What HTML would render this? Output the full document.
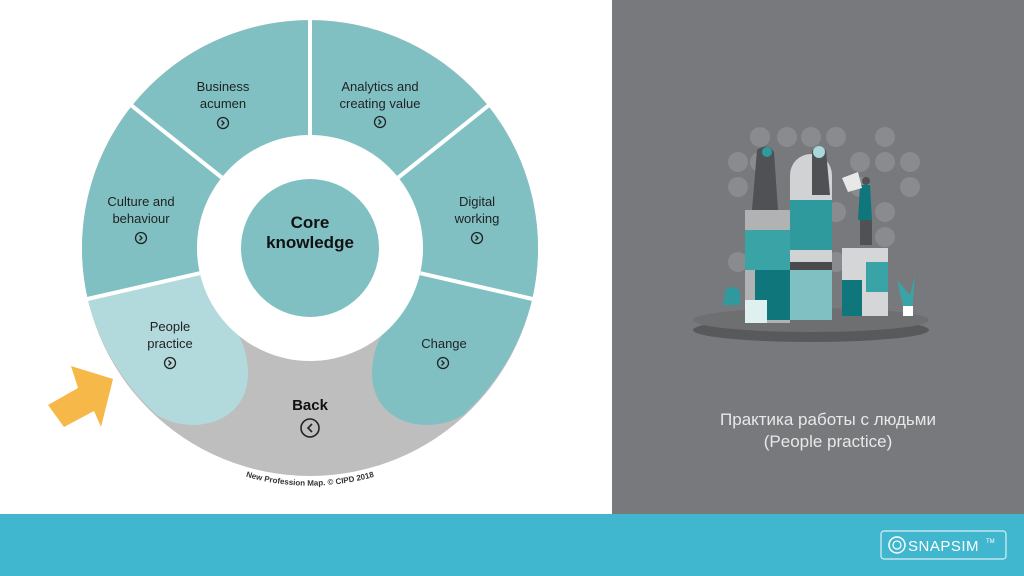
<!DOCTYPE html>
<html><head><meta charset="utf-8"><style>
html,body{margin:0;padding:0;width:1024px;height:576px;overflow:hidden;background:#fff;font-family:"Liberation Sans",sans-serif}
</style></head><body>
<svg width="1024" height="576" viewBox="0 0 1024 576" xmlns="http://www.w3.org/2000/svg" style="position:absolute;left:0;top:0">
<rect x="0" y="0" width="1024" height="576" fill="#fff"/>
<rect x="612" y="0" width="412" height="514" fill="#78797c"/>
<rect x="0" y="514" width="1024" height="62" fill="#40b7ce"/>

<circle cx="310" cy="248" r="228" fill="#bdbebd"/>
<path d="M87.7 298.9 A228 228 0 1 1 532.3 298.9 L420.2 273.2 A113 113 0 1 0 199.8 273.2 Z" fill="#80c0c3"/>
<path d="M87.7 298.9 A228 228 0 0 0 157 415 C190 436 250 425 248 370 C247 355 243 342 237 333 A113 113 0 0 1 199.8 273.2 Z" fill="#b2dadc"/>
<path d="M532.3 298.9 A228 228 0 0 1 463 415 C430 436 370 425 372 370 C373 355 377 342 383 333 A113 113 0 0 0 420.2 273.2 Z" fill="#80c0c3"/>
<circle cx="310" cy="248" r="113" fill="#fff"/>
<circle cx="310" cy="248" r="69" fill="#80c0c3"/>
<g stroke="#fff" stroke-width="4">
<line x1="310" y1="135" x2="310" y2="15"/>
<line x1="221.7" y1="177.5" x2="128" y2="102.7"/>
<line x1="398.3" y1="177.5" x2="492" y2="102.7"/>
<line x1="199.8" y1="273.2" x2="83" y2="300"/>
<line x1="420.2" y1="273.2" x2="537" y2="300"/>
</g>
<g font-size="13" fill="#222" text-anchor="middle">
<text x="223" y="91">Business</text><text x="223" y="108">acumen</text>
<text x="380" y="91">Analytics and</text><text x="380" y="108">creating value</text>
<text x="141" y="206">Culture and</text><text x="141" y="223">behaviour</text>
<text x="477" y="206">Digital</text><text x="477" y="223">working</text>
<text x="170" y="331">People</text><text x="170" y="348">practice</text>
<text x="444" y="348">Change</text>
</g>
<g font-size="17" font-weight="bold" fill="#111" text-anchor="middle">
<text x="310" y="228">Core</text><text x="310" y="248">knowledge</text>
</g>
<text x="310" y="410" font-size="15" font-weight="bold" fill="#111" text-anchor="middle">Back</text>
<g fill="none" stroke="#222" stroke-width="1.3">
<circle cx="223" cy="123" r="5.5"/><path d="M221.5 120.5 L224 123 L221.5 125.5"/>
<circle cx="380" cy="122" r="5.5"/><path d="M378.5 119.5 L381 122 L378.5 124.5"/>
<circle cx="141" cy="238" r="5.5"/><path d="M139.5 235.5 L142 238 L139.5 240.5"/>
<circle cx="477" cy="238" r="5.5"/><path d="M475.5 235.5 L478 238 L475.5 240.5"/>
<circle cx="170" cy="363" r="5.5"/><path d="M168.5 360.5 L171 363 L168.5 365.5"/>
<circle cx="443" cy="363" r="5.5"/><path d="M441.5 360.5 L444 363 L441.5 365.5"/>
<circle cx="310" cy="428" r="9" stroke-width="1.6"/><path d="M312 424 L308 428 L312 432" stroke-width="1.6"/>
</g>
<defs><path id="arc" d="M177 444 A233 233 0 0 0 443 444"/></defs>
<text font-size="8" font-weight="bold" fill="#333"><textPath href="#arc" startOffset="50%" text-anchor="middle">New Profession Map. © CIPD 2018</textPath></text>

<polygon points="71,366 113,379 101,427 94,411 64,427 48,405 78,388" fill="#f7b84a"/>

<g fill="#8a8b8e">
<circle cx="760" cy="137" r="10"/><circle cx="787" cy="137" r="10"/><circle cx="811" cy="137" r="10"/><circle cx="836" cy="137" r="10"/><circle cx="885" cy="137" r="10"/>
<circle cx="738" cy="162" r="10"/><circle cx="760" cy="162" r="10"/><circle cx="860" cy="162" r="10"/><circle cx="885" cy="162" r="10"/><circle cx="910" cy="162" r="10"/>
<circle cx="738" cy="187" r="10"/><circle cx="860" cy="187" r="10"/><circle cx="910" cy="187" r="10"/>
<circle cx="836" cy="212" r="10"/><circle cx="885" cy="212" r="10"/>
<circle cx="885" cy="237" r="10"/><circle cx="738" cy="262" r="10"/><circle cx="836" cy="262" r="10"/>
</g>
<ellipse cx="811" cy="330" rx="118" ry="12" fill="#58595b"/>
<ellipse cx="811" cy="320" rx="118" ry="12" fill="#6e6f71"/>
<rect x="745" y="210" width="45" height="113" fill="#b0b2b4"/>
<rect x="745" y="230" width="45" height="40" fill="#3aa3a6"/>
<rect x="755" y="270" width="35" height="50" fill="#0f777b"/>
<rect x="745" y="300" width="22" height="23" fill="#dff0f0"/>
<path d="M790 320 V175 A21 21 0 0 1 832 175 V320 Z" fill="#d0d2d4"/>
<rect x="790" y="200" width="42" height="50" fill="#2f9a9e"/>
<rect x="790" y="270" width="42" height="50" fill="#80c0c3"/>
<rect x="790" y="262" width="42" height="8" fill="#4a4b4d"/>
<rect x="842" y="248" width="46" height="68" fill="#d5d6d8"/>
<rect x="842" y="280" width="20" height="36" fill="#0f777b"/>
<rect x="866" y="262" width="22" height="30" fill="#3aa3a6"/>
<path d="M757 150 Q768 142 774 152 L778 210 L752 210 Z" fill="#505155"/>
<circle cx="767" cy="152" r="5" fill="#2f9a9e"/>
<path d="M812 150 L826 150 L830 195 L812 195 Z" fill="#505155"/>
<circle cx="819" cy="152" r="6" fill="#a8d8da"/>
<path d="M860 185 L870 185 L872 220 L858 220 Z" fill="#0f777b"/>
<rect x="860" y="220" width="12" height="25" fill="#505155"/>
<circle cx="866" cy="181" r="4" fill="#505155"/>
<path d="M842 178 L858 172 L862 188 L848 192 Z" fill="#e8e8e8"/>
<path d="M905 315 L897 280 L910 295 L915 275 L912 315 Z" fill="#3aa3a6"/>
<rect x="903" y="306" width="10" height="10" fill="#fff"/>
<path d="M725 298 A8 8 0 0 1 740 292 L740 305 L722 305 Z" fill="#2f9a9e"/>

<text x="828" y="425" font-size="17" fill="#e8e8e8" text-anchor="middle">Практика работы с людьми</text>
<text x="828" y="447" font-size="17" fill="#e8e8e8" text-anchor="middle">(People practice)</text>

<rect x="881" y="531" width="125" height="28" rx="3" fill="none" stroke="#d8f0f4" stroke-width="1.2"/>
<circle cx="897" cy="545" r="8" fill="none" stroke="#fff" stroke-width="1.5"/>
<circle cx="897" cy="545" r="4" fill="none" stroke="#fff" stroke-width="1.2"/>
<text x="908" y="551" font-size="15" fill="#fff" letter-spacing="0.5">SNAPSIM</text>
<text x="986" y="543" font-size="6" fill="#fff">TM</text>
</svg>
</body></html>
